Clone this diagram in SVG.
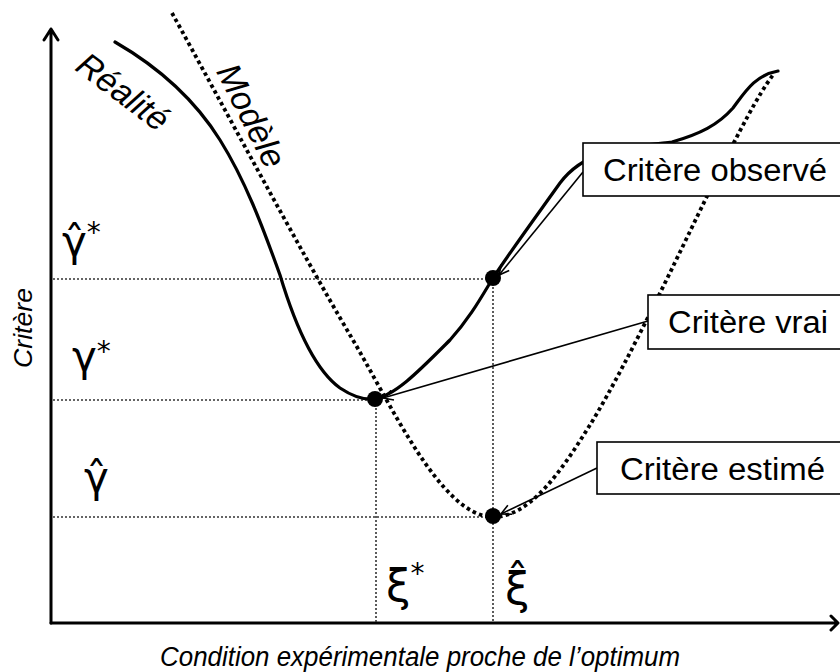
<svg xmlns="http://www.w3.org/2000/svg" width="840" height="672" viewBox="0 0 840 672">
<style>
.axis{fill:none;stroke:#000;stroke-width:3;stroke-linecap:round;stroke-linejoin:round}
.guide{fill:none;stroke:#333;stroke-width:1.6;stroke-dasharray:2 2}
.real{fill:none;stroke:#000;stroke-width:3.2;stroke-linecap:round}
.model{fill:none;stroke:#000;stroke-width:3.8;stroke-dasharray:3.6 3.2}
.conn{fill:none;stroke:#000;stroke-width:1.6}
.box{fill:#fff;stroke:#000;stroke-width:1.6}
.lbl{font-family:"Liberation Sans",Arial,sans-serif;font-size:31px;fill:#000}
.ital{font-family:"Liberation Sans",Arial,sans-serif;font-style:italic;fill:#000}
.math{font-family:"DejaVu Sans",sans-serif;fill:#000}
.pt{fill:#000}
</style>
<defs>
<marker id="open" viewBox="0 0 12 12" refX="11" refY="6" markerWidth="12" markerHeight="12" markerUnits="userSpaceOnUse" orient="auto">
<path d="M1,1 L11,6 L1,11" fill="none" stroke="#000" stroke-width="1.6"/>
</marker>
</defs>

<g id="axes">
<path class="axis" d="M51,623 L51,29 M44,40 L51,29 L58,40"/>
<path class="axis" d="M51,623 L837,623 M831,616 L838,623 L831,630"/>
</g>

<g id="guides">
<path class="guide" d="M53,279 L493,279 M53,400 L375,400 M53,517 L493,517"/>
<path class="guide" d="M376,400 L376,622 M493,279 L493,622"/>
</g>

<g id="model-curve">
<path class="model" d="M172,13 C220,100 300,250 350,335 C390,402 440,515 492,517 C530,518 562,470 590,425 C630,360 690,230 715,180 C740,130 758,95 773,75"/>
</g>

<g id="reality-curve">
<path class="real" d="M115,42 C160,68 195,100 220,140 C245,180 262,225 280,275 C295,325 315,370 340,388 C352,396 364,400 374,399 C395,396 420,370 450,340 C470,318 482,296 493,278 C510,252 535,218 560,183 C585,150 620,148 672,142 C700,134 718,125 733,108 C745,92 755,75 778,71"/>
</g>

<g id="labels-curves">
<text class="ital" font-size="34" transform="translate(116,101) rotate(37)" text-anchor="middle">Réalité</text>
<text class="ital" font-size="34" transform="translate(241,121) rotate(63)" text-anchor="middle">Modèle</text>
</g>

<g id="axis-labels">
<text class="ital" font-size="26" transform="translate(32,328) rotate(-90)" text-anchor="middle" textLength="80" lengthAdjust="spacingAndGlyphs">Critère</text>
<text class="ital" font-size="27" x="160" y="666" textLength="520" lengthAdjust="spacingAndGlyphs">Condition expérimentale proche de l’optimum</text>
</g>

<g id="math-labels">
<text class="math" font-size="42" x="62" y="256">γ̂<tspan font-size="28" dy="-14">*</tspan></text>
<text class="math" font-size="42" x="72" y="371">γ<tspan font-size="28" dy="-10">*</tspan></text>
<text class="math" font-size="42" x="84" y="492">γ̂</text>
<text class="math" font-size="44" x="386" y="601">ξ<tspan font-size="28" dy="-18">*</tspan></text>
<text class="math" font-size="44" x="505" y="604">ξ̂</text>
</g>

<g id="points">
<circle class="pt" cx="375" cy="399" r="8"/>
<circle class="pt" cx="493" cy="278" r="8"/>
<circle class="pt" cx="493" cy="516" r="8"/>
</g>

<g id="connectors">
<path class="conn" d="M583,172 L499,275" marker-end="url(#open)"/>
<path class="conn" d="M648,321 L383,398" marker-end="url(#open)"/>
<path class="conn" d="M597,468 L501,514" marker-end="url(#open)"/>
</g>

<g id="node-observe">
<rect class="box" x="583" y="143" width="262" height="53"/>
<text class="lbl" x="603" y="181" textLength="224" lengthAdjust="spacingAndGlyphs">Critère observé</text>
</g>
<g id="node-vrai">
<rect class="box" x="648" y="295" width="197" height="54"/>
<text class="lbl" x="668" y="333" textLength="160" lengthAdjust="spacingAndGlyphs">Critère vrai</text>
</g>
<g id="node-estime">
<rect class="box" x="597" y="442" width="248" height="52"/>
<text class="lbl" x="620" y="480" textLength="205" lengthAdjust="spacingAndGlyphs">Critère estimé</text>
</g>
</svg>
